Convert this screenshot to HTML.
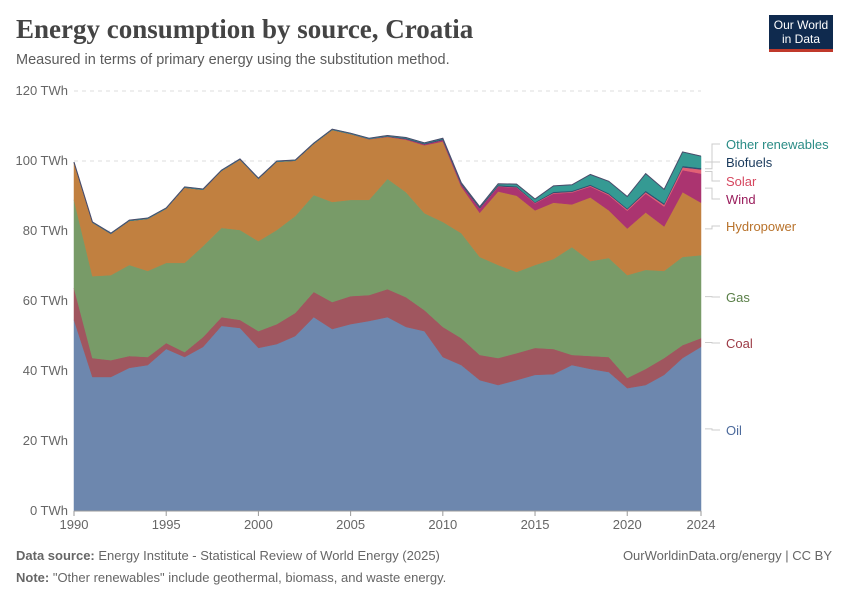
<!DOCTYPE html>
<html><head><meta charset="utf-8"><style>
body{margin:0;background:#fff;font-family:"Liberation Sans",sans-serif}
#wrap{position:relative;width:850px;height:600px;overflow:hidden}
.t{position:absolute;white-space:nowrap}
</style></head><body>
<div id="wrap">
<div class="t" style="left:16px;top:14px;font-family:'Liberation Serif',serif;font-size:27px;font-weight:bold;color:#444">Energy consumption by source, Croatia</div>
<div class="t" style="left:16px;top:52px;font-size:14.5px;color:#5b5b5b">Measured in terms of primary energy using the substitution method.</div>
<div class="t" style="left:769px;top:15px;width:64px;height:37px;background:#0f2a4e;border-bottom:3px solid #c0392b;color:#fff;font-size:12px;line-height:14px;text-align:center;padding-top:3px;box-sizing:border-box">Our World<br>in Data</div>
<svg id="chart" width="850" height="600" style="position:absolute;left:0;top:0"></svg>
<div class="t" style="left:16px;top:548px;font-size:13px;color:#666"><b>Data source:</b> Energy Institute - Statistical Review of World Energy (2025)</div>
<div class="t" style="right:18px;top:548px;font-size:13px;color:#666">OurWorldinData.org/energy | CC BY</div>
<div class="t" style="left:16px;top:570px;font-size:13px;color:#666"><b>Note:</b> "Other renewables" include geothermal, biomass, and waste energy.</div>
</div>
<script>
const years=[1990,1991,1992,1993,1994,1995,1996,1997,1998,1999,2000,2001,2002,2003,2004,2005,2006,2007,2008,2009,2010,2011,2012,2013,2014,2015,2016,2017,2018,2019,2020,2021,2022,2023,2024];
const oil=[54.6,38.3,38.3,40.9,41.7,46.3,44.0,46.9,52.9,52.3,46.6,47.7,50.0,55.4,52.0,53.4,54.3,55.4,52.6,51.4,44.0,41.7,37.4,36.0,37.4,38.9,39.1,41.7,40.6,39.7,35.1,36.0,38.9,43.7,46.9];
const coal=[9.1,5.4,4.8,3.4,2.3,1.7,1.4,2.8,2.5,2.3,4.8,5.7,6.6,7.2,7.7,8.0,7.4,8.0,8.5,6.0,8.6,7.7,7.2,7.7,7.7,7.7,7.2,2.9,3.7,4.3,2.9,4.6,4.8,3.7,2.5];
const gas=[25.2,23.4,24.3,26.0,24.6,22.9,25.5,26.0,25.5,25.7,25.7,26.9,27.7,27.7,28.6,27.5,27.2,31.5,30.0,27.7,30.0,30.0,28.0,26.6,23.2,23.7,25.7,30.8,27.1,28.3,29.4,28.3,24.9,25.2,23.7];
const hydro=[10.6,15.3,11.8,12.6,14.9,15.5,21.5,16.1,16.3,20.1,17.8,19.5,15.8,14.6,20.6,18.8,17.3,12.0,15.0,19.4,23.0,13.3,12.6,21.0,21.8,15.6,16.1,12.2,18.2,13.6,13.3,16.4,12.7,18.5,15.0];
const wind=[0,0,0,0,0,0,0,0,0,0,0,0,0,0,0,0.05,0.1,0.1,0.2,0.3,0.4,0.6,1.2,1.4,2.3,2.0,2.6,3.4,3.1,4.3,5.1,5.4,5.7,6.3,8.3];
const solar=[0,0,0,0,0,0,0,0,0,0,0,0,0,0,0,0,0,0,0,0,0,0,0.05,0.1,0.1,0.15,0.2,0.2,0.25,0.3,0.35,0.4,0.5,0.8,1.2];
const biofuels=[0,0,0,0,0,0,0,0,0,0,0,0,0,0,0,0,0,0.1,0.2,0.2,0.3,0.3,0.3,0.3,0.3,0.2,0.3,0.3,0.3,0.3,0.3,0.4,0.4,0.4,0.4];
const otherRen=[0.2,0.2,0.2,0.2,0.2,0.2,0.2,0.2,0.2,0.2,0.2,0.2,0.2,0.2,0.2,0.2,0.2,0.2,0.2,0.2,0.2,0.2,0.2,0.4,0.6,0.9,1.7,1.7,2.9,3.4,3.4,4.9,4.0,4.0,3.4];
const yTicks=[0,20,40,60,80,100,120];
const xTicks=[1990,1995,2000,2005,2010,2015,2020,2024];
const series=[["Oil",oil,"#6d87ae","#4c6a9c",430],["Coal",coal,"#a0565f","#9c3a45",343],["Gas",gas,"#789b68","#5a7f48",297],["Hydropower",hydro,"#c18040","#b8722b",226],["Wind",wind,"#ab3470","#9a1d5c",199],["Solar",solar,"#e16175","#d6475f",181],["Biofuels",biofuels,"#2e4e72","#1a3a5c",162],["Other renewables",otherRen,"#359a93","#2a8c86",144]];
const NS="http://www.w3.org/2000/svg",svg=document.getElementById('chart');
const X=y=>74+(y-1990)*(701-74)/34, Y=v=>511-v*3.5;
function mk(t,a,p){const e=document.createElementNS(NS,t);for(const k in a)e.setAttribute(k,a[k]);(p||svg).appendChild(e);return e;}
yTicks.forEach(v=>{
 const l=mk('line',{x1:74,x2:701,y1:Y(v),y2:Y(v),stroke:v?'#ddd':'#999','stroke-dasharray':v?'4 4':'none'});
 
 
 const t=mk('text',{x:68,y:Y(v)+4,'text-anchor':'end','font-size':13,fill:'#666','font-family':'Liberation Sans'});
 t.textContent=v+' TWh';
 
 
});
let base=years.map(()=>0);
series.forEach(s=>{
 const top=base.map((b,i)=>b+s[1][i]);
 let d='M'+years.map((y,i)=>X(y)+','+Y(top[i])).join('L');
 for(let i=years.length-1;i>=0;i--)d+='L'+X(years[i])+','+Y(base[i]);
 const p=mk('path',{d:d+'Z',fill:s[2],stroke:s[2],'stroke-width':0.5});
 
 
 const last=top[top.length-1],mid=Y((base[base.length-1]+last)/2);
 mk('path',{d:`M705,${mid}H712V${s[4]}H720`,fill:'none',stroke:'#ccc'});
 const t=mk('text',{x:726,y:s[4]+5,'font-size':13,fill:s[3],'font-family':'Liberation Sans'});
 t.textContent=s[0];
 
 
 base=top;
});
mk('path',{d:'M'+years.map((y,i)=>X(y)+','+Y(base[i])).join('L'),fill:'none',stroke:'#4a4a6a','stroke-width':1});
mk('line',{x1:74,x2:701,y1:511,y2:511,stroke:'#999'});
xTicks.forEach(y=>{
 mk('line',{x1:X(y),x2:X(y),y1:511,y2:516,stroke:'#999'});
 const t=mk('text',{x:X(y),y:529,'text-anchor':'middle','font-size':13,fill:'#666','font-family':'Liberation Sans'});
 t.textContent=y;
 
 
});
</script>
</body></html>
